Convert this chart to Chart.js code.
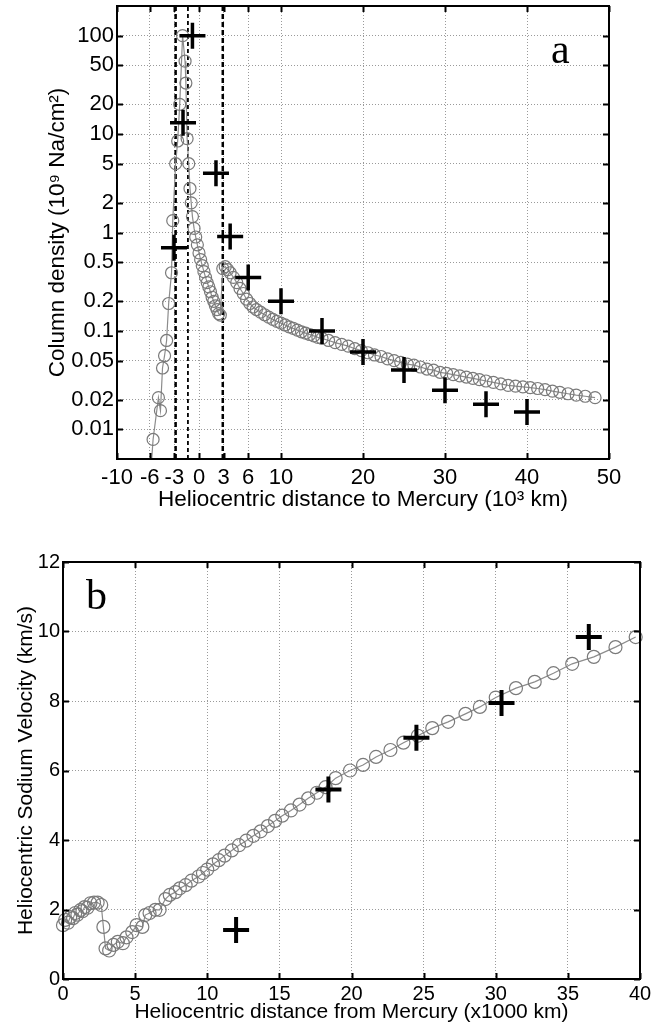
<!DOCTYPE html>
<html><head><meta charset="utf-8">
<script src="https://cdn.jsdelivr.net/npm/chart.js@4/dist/chart.umd.min.js"></script>
<style>
html,body{margin:0;padding:0;background:#fff;}
#wrap{position:relative;width:666px;height:1030px;overflow:hidden;}
canvas{position:absolute;left:0;}
</style></head><body>
<div id="wrap">
<canvas id="ca" width="666" height="520" style="top:0px"></canvas>
<canvas id="cb" width="666" height="510" style="top:520px"></canvas>
</div>
<script>
// ---------- Panel a : column density ----------
const xTicksA = [-10, -6, -3, 0, 3, 6, 10, 20, 30, 40, 50];
const yTicksA = [0.01, 0.02, 0.05, 0.1, 0.2, 0.5, 1, 2, 5, 10, 20, 50, 100];
const shadowLinesA = [-2.85, -1.35, 2.9];

const distA = [-5.85, -5.6, -4.95, -4.7, -4.45, -4.2, -3.95, -3.7, -3.35, -3.2, -2.85, -2.6, -2.35, -2.0, -1.7, -1.6,
  -1.45, -1.25, -1.1, -0.95, -0.8, -0.6, -0.4, -0.2, 0.0, 0.2, 0.4, 0.6, 0.8, 1.0, 1.2, 1.4, 1.6, 1.8, 2.0, 2.2, 2.4, 2.6,
  2.9, 3.2, 3.5, 3.8, 4.2, 4.6, 5.0, 5.4, 5.8, 6.2, 6.6, 7.0, 7.5, 8.0, 8.5, 9.0, 9.5, 10.0, 10.5, 11.0, 11.5, 12.0,
  12.5, 13.0, 13.5, 14.0, 14.5, 15.0, 15.8, 16.6, 17.4, 18.2, 19.0, 19.8, 20.6, 21.4, 22.2, 23.0, 23.8, 24.6, 25.4,
  26.2, 27.0, 27.8, 28.6, 29.4, 30.2, 31.0, 31.8, 32.6, 33.4, 34.2, 35.0, 35.9, 36.8, 37.7, 38.6, 39.5, 40.4, 41.3,
  42.2, 43.1, 44.0, 45.0, 46.0, 47.1, 48.3];
const densA = [0.004, 0.0079, 0.021, 0.0155, 0.042, 0.056, 0.08, 0.19, 0.39, 1.32, 5, 8.5, 20, 100, 55, 33,
  9, 5, 2.8, 2.0, 1.45, 1.1, 0.9, 0.75, 0.62, 0.53, 0.46, 0.4, 0.35, 0.31, 0.28, 0.25, 0.22, 0.2, 0.18, 0.165, 0.15, 0.145,
  0.43, 0.45, 0.42, 0.39, 0.35, 0.31, 0.27, 0.24, 0.21, 0.19, 0.175, 0.165, 0.155, 0.146, 0.138, 0.131, 0.125, 0.12, 0.115, 0.11, 0.106, 0.102,
  0.098, 0.095, 0.092, 0.089, 0.086, 0.084, 0.08, 0.076, 0.073, 0.07, 0.066, 0.063, 0.06, 0.057, 0.055, 0.052, 0.05, 0.048, 0.046,
  0.045, 0.043, 0.041, 0.04, 0.038, 0.037, 0.036, 0.035, 0.034, 0.033, 0.032, 0.031, 0.030, 0.029, 0.028, 0.0275, 0.027, 0.0265, 0.026,
  0.0253, 0.0245, 0.0238, 0.023, 0.0223, 0.0217, 0.021];

const obsDistA = [-3.05, -1.95, -0.8, 2.07, 3.8, 6.0, 10.0, 15.0, 20.0, 25.0, 30.0, 35.0, 40.0];
const obsDensA = [0.7, 13, 100, 4.0, 0.91, 0.35, 0.2, 0.1, 0.061, 0.04, 0.025, 0.018, 0.015];

// ---------- Panel b : velocity ----------
const xTicksB = [0, 5, 10, 15, 20, 25, 30, 35, 40];
const yTicksB = [0, 2, 4, 6, 8, 10, 12];

const distB = [0.0, 0.15, 0.35, 0.5, 0.7, 0.85, 1.0, 1.2, 1.35, 1.5, 1.7, 1.9, 2.15, 2.4, 2.65, 2.8, 2.95, 3.2, 3.5, 3.8,
  4.15, 4.4, 4.8, 5.1, 5.5, 5.7, 6.0, 6.4, 6.7, 7.1, 7.4, 7.8, 8.1, 8.5, 8.9, 9.4, 9.7, 10.0, 10.4, 10.8, 11.2, 11.7,
  12.2, 12.7, 13.2, 13.7, 14.2, 14.7, 15.2, 15.8, 16.4, 17.0, 17.6, 18.2, 18.9, 19.9, 20.8, 21.7, 22.7, 23.6, 24.6,
  25.6, 26.7, 27.9, 28.9, 30.0, 31.4, 32.7, 34.0, 35.3, 36.8, 38.3, 39.7];
const velB = [1.55, 1.7, 1.62, 1.78, 1.75, 1.9, 1.85, 1.98, 1.95, 2.07, 2.05, 2.18, 2.2, 2.2, 2.13, 1.5, 0.88, 0.82, 0.98, 1.07,
  1.03, 1.2, 1.35, 1.55, 1.5, 1.84, 1.9, 1.99, 1.99, 2.3, 2.42, 2.5, 2.61, 2.7, 2.83, 2.95, 3.05, 3.15, 3.3, 3.42, 3.55, 3.7,
  3.85, 3.98, 4.12, 4.25, 4.4, 4.55, 4.7, 4.85, 5.02, 5.2, 5.36, 5.52, 5.78, 6.0, 6.16, 6.39, 6.59, 6.8, 7.0,
  7.22, 7.4, 7.63, 7.83, 8.1, 8.37, 8.55, 8.8, 9.07, 9.27, 9.55, 9.84];

const obsDistB = [12.0, 18.4, 24.5, 30.4, 36.45];
const obsVelB = [1.41, 5.45, 6.94, 7.94, 9.84];

// ---------- helpers ----------
const SANS = '"Liberation Sans", Arial, Helvetica, sans-serif';
const pts = (xs, ys) => xs.map((x, i) => ({x: x, y: ys[i]}));

function framePlugin(letter, lx, ly) {
  return {
    id: 'frame' + letter,
    afterDatasetsDraw(chart) {
      const {ctx, chartArea: a, scales} = chart;
      ctx.save();
      ctx.strokeStyle = '#000';
      ctx.lineWidth = 2;
      const tl = 6;
      ctx.beginPath();
      scales.x.ticks.forEach(t => {
        const p = Math.round(scales.x.getPixelForValue(t.value)) + 0.5;
        ctx.moveTo(p, a.top); ctx.lineTo(p, a.top + tl);
        ctx.moveTo(p, a.bottom); ctx.lineTo(p, a.bottom - tl);
      });
      scales.y.ticks.forEach(t => {
        const p = Math.round(scales.y.getPixelForValue(t.value)) + 0.5;
        ctx.moveTo(a.left, p); ctx.lineTo(a.left + tl, p);
        ctx.moveTo(a.right, p); ctx.lineTo(a.right - tl, p);
      });
      ctx.stroke();
      ctx.lineWidth = 2;
      ctx.strokeRect(a.left, a.top, a.right - a.left, a.bottom - a.top);
      ctx.fillStyle = '#000';
      ctx.font = '42px "Liberation Serif", "Times New Roman", serif';
      ctx.textBaseline = 'alphabetic';
      ctx.fillText(letter, lx, ly);
      ctx.restore();
    }
  };
}

function axisX(min, max, ticksArr, height, tickFont, tickPad, title, titleFont, titlePadBottom) {
  return {
    type: 'linear', min: min, max: max,
    afterBuildTicks: s => { s.ticks = ticksArr.map(v => ({value: v})); },
    afterFit: s => { s.height = height; s.paddingLeft = 0; s.paddingRight = 0; },
    grid: {color: '#9a9a9a', lineWidth: 1, drawTicks: false},
    border: {display: false, dash: [1, 2]},
    ticks: {color: '#000', font: {family: SANS, size: tickFont}, padding: tickPad, maxRotation: 0, minRotation: 0,
      autoSkip: false, callback: v => String(v)},
    title: {display: true, text: title, color: '#000', font: {family: SANS, size: titleFont},
      padding: {top: 0, bottom: titlePadBottom}}
  };
}
function axisY(type, min, max, ticksArr, width, tickFont, title, titleFont, titlePadTop) {
  return {
    type: type, min: min, max: max,
    afterBuildTicks: s => { s.ticks = ticksArr.map(v => ({value: v})); },
    afterFit: s => { s.width = width; s.paddingTop = 0; s.paddingBottom = 0; },
    grid: {color: '#9a9a9a', lineWidth: 1, drawTicks: false},
    border: {display: false, dash: [1, 2]},
    ticks: {color: '#000', font: {family: SANS, size: tickFont}, padding: 3, autoSkip: false,
      callback: v => String(v)},
    title: {display: true, text: title, color: '#000', font: {family: SANS, size: titleFont},
      padding: {top: titlePadTop, bottom: 0}}
  };
}

const baseOpts = {
  responsive: false, animation: false, devicePixelRatio: 1,
  plugins: {legend: {display: false}, tooltip: {enabled: false}}
};

// ---------- Chart a ----------
const yMinA = 0.005, yMaxA = 200;
new Chart(document.getElementById('ca'), {
  type: 'scatter',
  data: {datasets: [
    {data: pts(obsDistA, obsDensA), pointStyle: 'cross', pointRadius: 13, pointBorderWidth: 3.5,
      borderColor: '#000', pointBorderColor: '#000', showLine: false, order: 0},
    {data: pts(distA, densA), showLine: true, borderColor: '#8c8c8c', borderWidth: 1.2,
      pointStyle: 'circle', pointRadius: 6, pointBackgroundColor: 'rgba(0,0,0,0)',
      pointBorderColor: '#7a7a7a', pointBorderWidth: 1.2, clip: 0, order: 1},
    {data: [{x: shadowLinesA[0], y: yMinA}, {x: shadowLinesA[0], y: yMaxA}], showLine: true,
      borderColor: '#000', borderWidth: 2.5, borderDash: [5, 3], pointRadius: 0, clip: 0, order: 2},
    {data: [{x: shadowLinesA[1], y: yMinA}, {x: shadowLinesA[1], y: yMaxA}], showLine: true,
      borderColor: '#000', borderWidth: 1.8, borderDash: [4, 3], pointRadius: 0, clip: 0, order: 2},
    {data: [{x: shadowLinesA[2], y: yMinA}, {x: shadowLinesA[2], y: yMaxA}], showLine: true,
      borderColor: '#000', borderWidth: 2.5, borderDash: [5, 3], pointRadius: 0, clip: 0, order: 2}
  ]},
  options: Object.assign({}, baseOpts, {
    layout: {autoPadding: false, padding: {left: 0, top: 6, right: 57, bottom: 0}},
    scales: {
      x: axisX(-10, 50, xTicksA, 61, 22, 6, 'Heliocentric distance to Mercury (10\u00B3 km)', 22.5, 7),
      y: axisY('logarithmic', yMinA, yMaxA, yTicksA, 117, 22, 'Column density (10\u2079 Na/cm\u00B2)', 22.5, 44)
    }
  }),
  plugins: [framePlugin('a', 551, 63)]
});

// ---------- Chart b ----------
new Chart(document.getElementById('cb'), {
  type: 'scatter',
  data: {datasets: [
    {data: pts(obsDistB, obsVelB), pointStyle: 'cross', pointRadius: 13, pointBorderWidth: 4,
      borderColor: '#000', pointBorderColor: '#000', showLine: false, order: 0},
    {data: pts(distB, velB), showLine: true, borderColor: '#8c8c8c', borderWidth: 1.2,
      pointStyle: 'circle', pointRadius: 6.5, pointBackgroundColor: 'rgba(0,0,0,0)',
      pointBorderColor: '#7a7a7a', pointBorderWidth: 1.2, clip: 8, order: 1}
  ]},
  options: Object.assign({}, baseOpts, {
    layout: {autoPadding: false, padding: {left: 0, top: 42, right: 26, bottom: 0}},
    scales: {
      x: axisX(0, 40, xTicksB, 51, 20, 3, 'Heliocentric distance from Mercury (x1000 km)', 21, 5),
      y: axisY('linear', 0, 12, yTicksB, 63, 20, 'Heliocentric Sodium Velocity (km/s)', 21, 14)
    }
  }),
  plugins: [framePlugin('b', 86, 89)]
});
</script>
</body></html>
